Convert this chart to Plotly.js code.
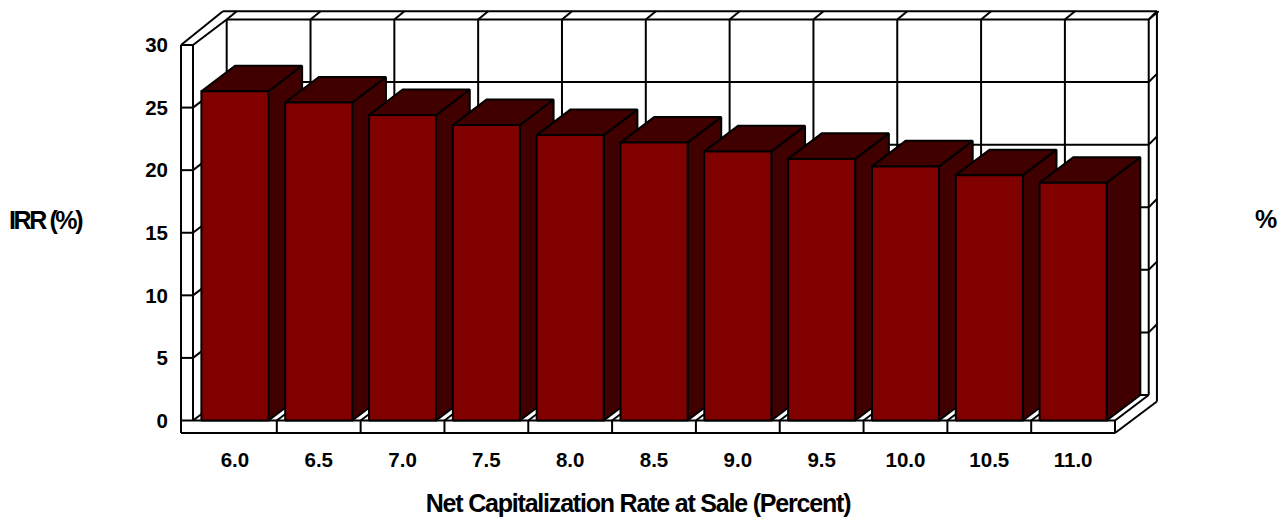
<!DOCTYPE html>
<html>
<head>
<meta charset="utf-8">
<script src="https://cdn.plot.ly/plotly-3.0.1.min.js"></script>
<style>
  html, body { margin: 0; padding: 0; background: #fff; }
  #chart { width: 1284px; height: 517px; }
  /* the axis title sits centred under the bars' front row rather than the whole box */
  .xtitle { letter-spacing: -1.2px; transform: translate(-31px, 2px); }
  .annotation-text { letter-spacing: -2.4px; }
</style>
</head>
<body>
<div id="chart"></div>
<script>
// Net capitalization rate at sale and the resulting IRR
const capRates = ["6.0", "6.5", "7.0", "7.5", "8.0", "8.5", "9.0", "9.5", "10.0", "10.5", "11.0"];
const irrValues = [26.3, 25.4, 24.4, 23.6, 22.8, 22.2, 21.5, 20.9, 20.3, 19.6, 19.0];
const yTicks = [0, 5, 10, 15, 20, 25, 30];

const FRONT = "#800000";
const SHADE = "#400000";
const INK = "#000000";

// Oblique projection of the box, expressed in axis units
const depthX = 0.402, depthY = 2.04;
const barHalf = 0.40;
const wallX = 0.143, floorY = 1.0;
const xMin = -0.5, xMax = capRates.length - 0.5;
const yMax = yTicks[yTicks.length - 1];
const outerBackRight = xMax + 0.5, outerBackLeft = xMin - wallX + 0.5;
const outerTop = 32.7, outerBackBottom = 1.52;
const boundaries = capRates.map((_, i) => i + 0.5).slice(0, -1);

function segments(list) {
  const x = [], y = [];
  list.forEach(s => { x.push(s[0], s[2], null); y.push(s[1], s[3], null); });
  return { x, y };
}

const frameSegs = [];
// back wall gridlines, with their runs along the side wall and to the outer shell
yTicks.forEach(v => {
  frameSegs.push([xMin + depthX, v + depthY, xMax + depthX, v + depthY]);
  frameSegs.push([xMin - wallX, v, xMin, v]);
  frameSegs.push([xMin, v, xMin + depthX, v + depthY]);
  if (v > 0) frameSegs.push([xMax + depthX, v + depthY, outerBackRight, v + depthY + 0.65]);
});
[xMin].concat(boundaries, [xMax]).forEach(b => {
  frameSegs.push([b + depthX, depthY, b + depthX, yMax + depthY]);
  frameSegs.push([b + depthX, yMax + depthY, b + depthX + 0.12, outerTop]);
  if (b > xMin && b < xMax) {
    frameSegs.push([b, 0, b + depthX, depthY]);
    frameSegs.push([b, 0, b, -floorY]);
  }
});
// inner edges of the box
frameSegs.push([xMin, 0, xMin, yMax]);
frameSegs.push([xMin, 0, xMax, 0]);
frameSegs.push([xMax, 0, xMax + depthX, depthY]);
// outer shell
frameSegs.push([xMin - wallX, yMax, xMin - wallX, -floorY]);
frameSegs.push([xMin - wallX, -floorY, xMax, -floorY]);
frameSegs.push([xMax, -floorY, xMax, 0]);
frameSegs.push([xMax, -floorY, outerBackRight, outerBackBottom]);
frameSegs.push([outerBackRight, outerBackBottom, outerBackRight, outerTop]);
frameSegs.push([outerBackRight, outerTop, outerBackLeft, outerTop]);
frameSegs.push([outerBackLeft, outerTop, xMin - wallX, yMax]);

const frame = segments(frameSegs);
const traces = [{
  type: "scatter", mode: "lines", x: frame.x, y: frame.y,
  line: { color: INK, width: 2 }, hoverinfo: "skip", showlegend: false
}];

function face(xs, ys, color) {
  traces.push({
    type: "scatter", mode: "lines", x: xs.concat(xs[0]), y: ys.concat(ys[0]),
    fill: "toself", fillcolor: color, line: { color: INK, width: 2 },
    hoverinfo: "skip", showlegend: false
  });
}

// Bars run left to right so each front face overlaps its neighbour's side
irrValues.forEach((v, i) => {
  const l = i - barHalf, r = i + barHalf;
  face([r, r + depthX, r + depthX, r], [0, depthY, v + depthY, v], SHADE);
  face([l, l + depthX, r + depthX, r], [v, v + depthY, v + depthY, v], SHADE);
  face([l, r, r, l], [0, 0, v, v], FRONT);
});

const tickFont = { family: "Liberation Sans, Arial, sans-serif", size: 20.5, color: "#000", weight: 700 };
const labelFont = { family: "Liberation Sans, Arial, sans-serif", size: 25, color: "#000" };

// Pixel scale of the axes: plot box spans 179..1159 across and 9..435 down
const pxPerCat = 83.82, pxPerUnit = 12.517;
const boxLeft = 179, boxRight = 1159, boxTop = 9, boxBottom = 435;
const originX = 193, originY = 420.5;
const toX = px => (px - originX) / pxPerCat + xMin;
const toY = py => (originY - py) / pxPerUnit;

const boxW = boxRight - boxLeft, boxH = boxBottom - boxTop;
const layout = {
  width: 1284, height: 517,
  margin: { l: boxLeft, r: 1284 - boxRight, t: boxTop, b: 517 - boxBottom, pad: 0 },
  paper_bgcolor: "#fff", plot_bgcolor: "#fff",
  showlegend: false,
  xaxis: {
    range: [toX(boxLeft), toX(boxRight)], showgrid: false, zeroline: false, fixedrange: true,
    showline: false, ticks: "",
    tickmode: "array", tickvals: capRates.map((_, i) => i), ticktext: capRates,
    ticklabelstandoff: 10, tickfont: tickFont,
    title: { text: "<b>Net Capitalization Rate at Sale (Percent)</b>", font: labelFont, standoff: 26 }
  },
  yaxis: {
    range: [toY(boxBottom), toY(boxTop)], showgrid: false, zeroline: false, fixedrange: true,
    showline: false, ticks: "",
    tickmode: "array", tickvals: yTicks,
    ticklabelstandoff: 10, tickfont: tickFont
  },
  annotations: [
    { text: "<b>IRR (%)</b>", xref: "paper", yref: "paper", x: (46 - boxLeft) / boxW, y: (boxBottom - 220) / boxH,
      showarrow: false, font: labelFont, xanchor: "center", yanchor: "middle" },
    { text: "<b>%</b>", xref: "paper", yref: "paper", x: (1266 - boxLeft) / boxW, y: (boxBottom - 219) / boxH,
      showarrow: false, font: labelFont, xanchor: "center", yanchor: "middle" }
  ]
};

Plotly.newPlot("chart", traces, layout, { displayModeBar: false, staticPlot: true });
</script>
</body>
</html>
